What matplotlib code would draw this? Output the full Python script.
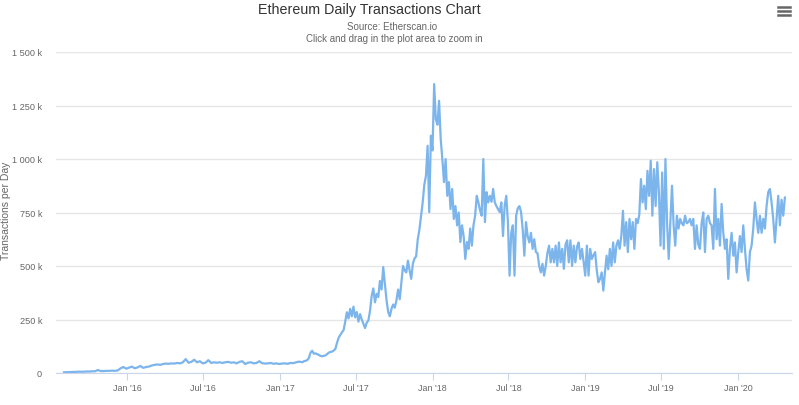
import numpy as np
import pandas as pd
import matplotlib
matplotlib.use("Agg")
import matplotlib.pyplot as plt
import matplotlib.dates as mdates
from matplotlib.ticker import FuncFormatter, FixedLocator

FONT = 'Liberation Sans'

# ---- data (transactions per day, thousands) ----
seg_bounds = ["2015-08-03", "2017-02-15", "2017-10-14", "2018-06-10",
              "2019-02-05", "2019-09-08", "2020-04-22"]

vals_2015_2017 = [3, 4, 4, 5, 5, 6, 6, 6, 7, 7, 8, 8, 14, 9, 9, 10, 10, 11, 10, 12,
                  22, 28, 20, 25, 30, 22, 26, 33, 24, 28,
                  30, 35, 38, 40, 38, 42, 44, 43, 45, 44, 47, 45, 50,
                  65, 48, 52, 62, 50, 55, 45, 48, 60, 47, 50,
                  48, 50, 47, 50, 52, 48, 50, 45, 52, 55, 42, 48, 50, 45, 47, 55,
                  46, 44, 45, 47, 43, 45,
                  42, 44, 45, 43, 47, 46, 50]
vals_2017 = [53, 52, 50, 55, 57, 60, 70, 95, 104, 90, 92, 88, 85, 80, 78, 80, 82, 88,
             95, 98, 100, 105, 112, 140, 165, 178, 190, 200, 240, 284, 255, 300, 265,
             310, 260, 285, 240, 275, 250, 230, 210, 235, 245, 290, 360, 395, 330, 370,
             355, 430, 390, 495, 420, 340, 285, 265, 300, 320, 305, 340, 390]
vals_2017_2018 = [345, 420, 500, 480, 470, 525, 480, 440, 510, 535, 545, 625, 670, 735,
                  797, 880, 922, 1062, 752, 1109, 1040, 1350, 1187, 1160, 1272, 1093,
                  1000, 892, 1000, 828, 892, 766, 860, 720, 780, 690, 750, 612, 690, 640,
                  533, 612, 580, 675, 595, 690, 735, 828, 797, 760, 735, 1000, 705, 845,
                  797, 828, 800, 860, 797, 780, 766]
vals_2018_2019 = [752, 797, 640, 780, 828, 705, 455, 655, 690, 455, 735, 770, 780, 752,
                  670, 548, 705, 640, 610, 655, 580, 625, 565, 560, 500, 470, 510, 455,
                  500, 560, 595, 517, 580, 517, 595, 500, 610, 517, 580, 487, 600, 620,
                  517, 620, 500, 595, 517, 590, 610, 533, 580, 520, 455, 595, 455, 580,
                  533, 550, 565, 480, 424]
vals_2019 = [440, 470, 385, 470, 548, 485, 580, 500, 610, 517, 595, 620, 580, 640, 758,
             595, 705, 565, 720, 625, 705, 580, 720, 700, 740, 906, 797, 875, 766, 945,
             828, 992, 735, 953, 780, 985, 845, 595, 937, 580, 1000, 700, 533, 705, 875,
             690, 595, 735, 675, 720, 700, 690, 735, 700, 705]
vals_2019_2020 = [720, 690, 720, 580, 690, 600, 580, 700, 750, 565, 720, 735, 700, 690,
                  580, 860, 625, 720, 595, 790, 655, 580, 625, 440, 580, 655, 548, 610,
                  470, 565, 640, 565, 690, 580, 485, 432, 565, 595, 675, 797, 720, 655,
                  735, 655, 720, 675, 780, 845, 860, 797, 720, 610, 720, 828, 690, 810,
                  735, 820]

segments = [vals_2015_2017, vals_2017, vals_2017_2018, vals_2018_2019, vals_2019, vals_2019_2020]

dates = []
values = []
for i, seg in enumerate(segments):
    s = pd.Timestamp(seg_bounds[i]).value
    e = pd.Timestamp(seg_bounds[i + 1]).value
    last = i == len(segments) - 1
    ts = np.linspace(s, e, len(seg) + (0 if last else 1))
    if not last:
        ts = ts[:-1]
    dates.extend(pd.to_datetime(ts))
    values.extend(seg)
values = np.array(values) * 1000

y_ticks = [0, 250000, 500000, 750000, 1000000, 1250000, 1500000]
x_ticks = ["2016-01-01", "2016-07-01", "2017-01-01", "2017-07-01", "2018-01-01",
           "2018-07-01", "2019-01-01", "2019-07-01", "2020-01-01"]
x_labels = ["Jan '16", "Jul '16", "Jan '17", "Jul '17", "Jan '18", "Jul '18",
            "Jan '19", "Jul '19", "Jan '20"]

# ---- figure ----
W, H = 799, 406
fig = plt.figure(figsize=(W / 100, H / 100), dpi=100)
fig.patch.set_facecolor('white')
ax = fig.add_axes([56 / W, (H - 374) / H, (792 - 56) / W, (374 - 53) / H])

ax.plot(dates, values, color='#7cb5ec', lw=1.6, solid_joinstyle='round')

ax.set_ylim(0, 1500000)
ax.set_xlim(pd.Timestamp("2015-07-15"), pd.Timestamp("2020-05-09"))
ax.yaxis.set_major_locator(FixedLocator(y_ticks))

def fmt(v, p):
    if v == 0:
        return "0"
    k = int(round(v / 1000))
    s = f"{k:,}".replace(",", " ")
    return f"{s} k"
ax.yaxis.set_major_formatter(FuncFormatter(fmt))

xt = mdates.date2num(pd.to_datetime(x_ticks))
ax.set_xticks(xt)
ax.set_xticklabels(x_labels)

ax.grid(axis='y', color='#e6e6e6', lw=1)
ax.set_axisbelow(True)
for side in ['top', 'right', 'left']:
    ax.spines[side].set_visible(False)
ax.spines['bottom'].set_color('#ccd6eb')
ax.tick_params(axis='y', length=0, pad=10, labelsize=6.6, labelcolor='#666666')
ax.tick_params(axis='x', length=5, color='#ccd6eb', pad=2, labelsize=6.4, labelcolor='#666666')
for lab in ax.get_xticklabels() + ax.get_yticklabels():
    lab.set_fontfamily(FONT)

fig.text(6 / W, 1 - 211 / H, "Transactions per Day", rotation=90, ha='center', va='center',
         fontsize=7.5, color='#666666', family=FONT)

fig.text(369 / W, 1 - 10 / H, "Ethereum Daily Transactions Chart", ha='center',
         va='center', fontsize=10.3, color='#333333', family=FONT)
fig.text(392 / W, 1 - 27 / H, "Source: Etherscan.io", ha='center', va='center',
         fontsize=7, color='#666666', family=FONT)
fig.text(394 / W, 1 - 38.5 / H, "Click and drag in the plot area to zoom in", ha='center',
         va='center', fontsize=7, color='#666666', family=FONT)

# menu icon
for yy in (7.5, 11.5, 15.5):
    fig.add_artist(plt.Line2D([778 / W, 790 / W], [1 - yy / H, 1 - yy / H],
                              color='#666666', lw=1.8, transform=fig.transFigure))

fig.savefig("out.png", dpi=100, facecolor='white')
